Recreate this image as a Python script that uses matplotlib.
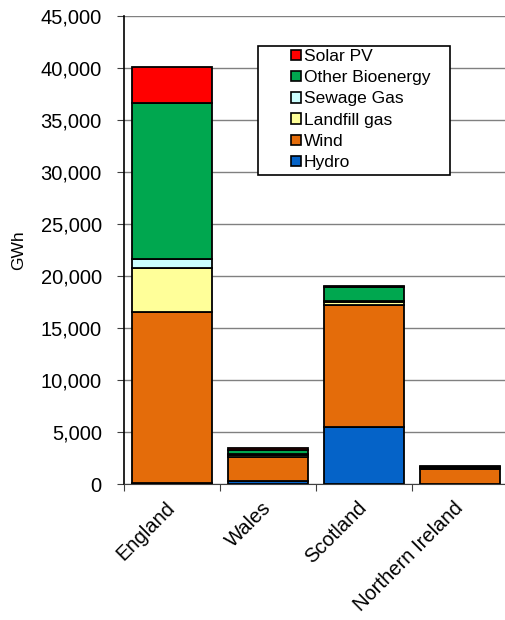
import numpy as np
import matplotlib.pyplot as plt
from matplotlib.patches import Rectangle, Patch

plt.rcParams['font.family'] = ['Liberation Sans', 'DejaVu Sans']

# generation by country, GWh
countries = ['England', 'Wales', 'Scotland', 'Northern Ireland']
hydro = [80, 300, 5450, 40]
wind = [16500, 2270, 11750, 1370]
landfill = [4170, 250, 300, 120]
sewage = [860, 60, 100, 30]
bioenergy = [15000, 350, 1300, 100]
solar_pv = [3500, 200, 100, 40]

series = [('Hydro', hydro, '#0563C8'),
          ('Wind', wind, '#E46C0A'),
          ('Landfill gas', landfill, '#FFFF99'),
          ('Sewage Gas', sewage, '#CCFFFF'),
          ('Other Bioenergy', bioenergy, '#00A74F'),
          ('Solar PV', solar_pv, '#FF0000')]

fig = plt.figure(figsize=(5.05, 6.2), dpi=100)
ax = fig.add_axes([124 / 505, 136 / 620, 384 / 505, 468 / 620])

x = np.arange(len(countries))
bottom = np.zeros(len(countries))
for name, vals, col in series:
    ax.bar(x, vals, 0.833, bottom=bottom, color=col, edgecolor='black',
           linewidth=1.3, zorder=3)
    bottom += np.array(vals)

ax.set_xlim(-0.5, 3.5)
ax.set_ylim(0, 45000)
ax.set_yticks(np.arange(0, 45001, 5000))
ax.set_yticklabels(['{:,}'.format(v) for v in range(0, 45001, 5000)],
                   fontsize=14.5)
ax.yaxis.grid(True, color='#808080', linewidth=1.0, zorder=0)
ax.set_axisbelow(True)

ax.set_xticks(np.arange(-0.5, 3.6, 1.0))
ax.set_xticklabels([])
ax.set_xticks(x, minor=True)
ax.set_xticklabels(countries, minor=True, rotation=45, ha='right',
                   va='center', rotation_mode='anchor', fontsize=14.5)
ax.tick_params(axis='x', which='minor', length=0, pad=15)
ax.tick_params(axis='both', which='major', direction='out', length=5,
               color='#404040')
ax.tick_params(axis='y', which='major', pad=11)
ax.set_ylabel('GWh', fontsize=12.5)
ax.yaxis.set_label_coords((26 - 124) / 384, 0.5)

for s in ['top', 'right']:
    ax.spines[s].set_visible(False)
ax.spines['left'].set_linewidth(1.2)
ax.spines['bottom'].set_color('#404040')

# legend frame drawn separately so the entries sit right of its left edge
ax.add_patch(Rectangle(((258 - 124) / 384, (484 - 175) / 468), 192 / 384,
                       129 / 468, transform=ax.transAxes, fill=True,
                       facecolor='white', edgecolor='black', linewidth=1.2,
                       zorder=4))
handles = [Patch(facecolor=col, edgecolor='black', linewidth=1.2)
           for name, vals, col in series[::-1]]
labels = [name for name, vals, col in series[::-1]]
leg = ax.legend(handles, labels, loc='upper left',
                bbox_to_anchor=((291 - 124) / 384, (484 - 49) / 468),
                frameon=False, fontsize=12.5, borderpad=0, borderaxespad=0,
                handlelength=0.55, handleheight=0.55, handletextpad=0.2,
                labelspacing=0.36)
leg.set_zorder(5)

plt.savefig('out.png', dpi=100)
